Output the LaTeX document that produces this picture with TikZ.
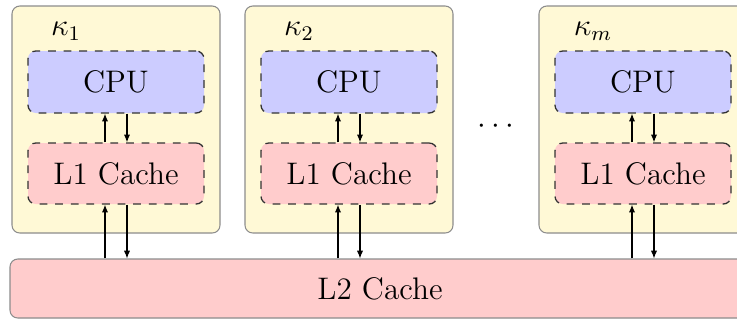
\documentclass[tikz,border=0pt]{standalone}
\usetikzlibrary{arrows.meta}
\definecolor{coreyellow}{RGB}{255,249,214}
\definecolor{cpublue}{RGB}{204,204,255}
\definecolor{cachered}{RGB}{255,204,204}
\def\u{0.3847pt}
\begin{document}
\begin{tikzpicture}[x=0.3847pt,y=-0.3847pt,font=\large,
  corebox/.style={draw=black!45,fill=coreyellow,rounded corners=3pt,line width=0.4pt,minimum width={208*\u},minimum height={227*\u},inner sep=0pt},
  cpubox/.style={draw=black!80,dashed,fill=cpublue,rounded corners=3pt,line width=0.5pt,minimum width={176*\u},minimum height={62*\u},inner sep=0pt},
  l1box/.style={draw=black!80,dashed,fill=cachered,rounded corners=3pt,line width=0.5pt,minimum width={176*\u},minimum height={61*\u},inner sep=0pt},
  l2box/.style={draw=black!45,fill=cachered,rounded corners=3pt,line width=0.4pt,minimum width={740*\u},minimum height={59*\u},inner sep=0pt},
  link/.style={-{Latex[length=3pt,width=2.4pt]},line width=0.4pt}]
\useasboundingbox (0,0) rectangle (737,320);
\node[l2box] (L2) at (380,288.5) {L2 Cache};
\foreach \i/\cx/\lab in {1/116/1,2/349/2,3/643/m}{
  \node[corebox] (core\i) at (\cx,119.5) {};
  \node (k\i) at (\cx-50,31) {$\kappa_{\lab}$};
  \node[cpubox] (cpu\i) at (\cx,82) {CPU};
  \node[l1box] (l1\i) at (\cx,173.5) {L1 Cache};
  \coordinate (ua\i) at ([xshift=-11*\u]l1\i.south);
  \coordinate (da\i) at ([xshift=11*\u]l1\i.south);
  \draw[link] ([xshift=-11*\u]l1\i.north) -- ([xshift=-11*\u]cpu\i.south);
  \draw[link] ([xshift=11*\u]cpu\i.south) -- ([xshift=11*\u]l1\i.north);
  \draw[link] (ua\i |- L2.north) -- (ua\i);
  \draw[link] (da\i) -- (da\i |- L2.north);
}
\node (dots) at (496,127) {$\cdots$};
\end{tikzpicture}
\end{document}
